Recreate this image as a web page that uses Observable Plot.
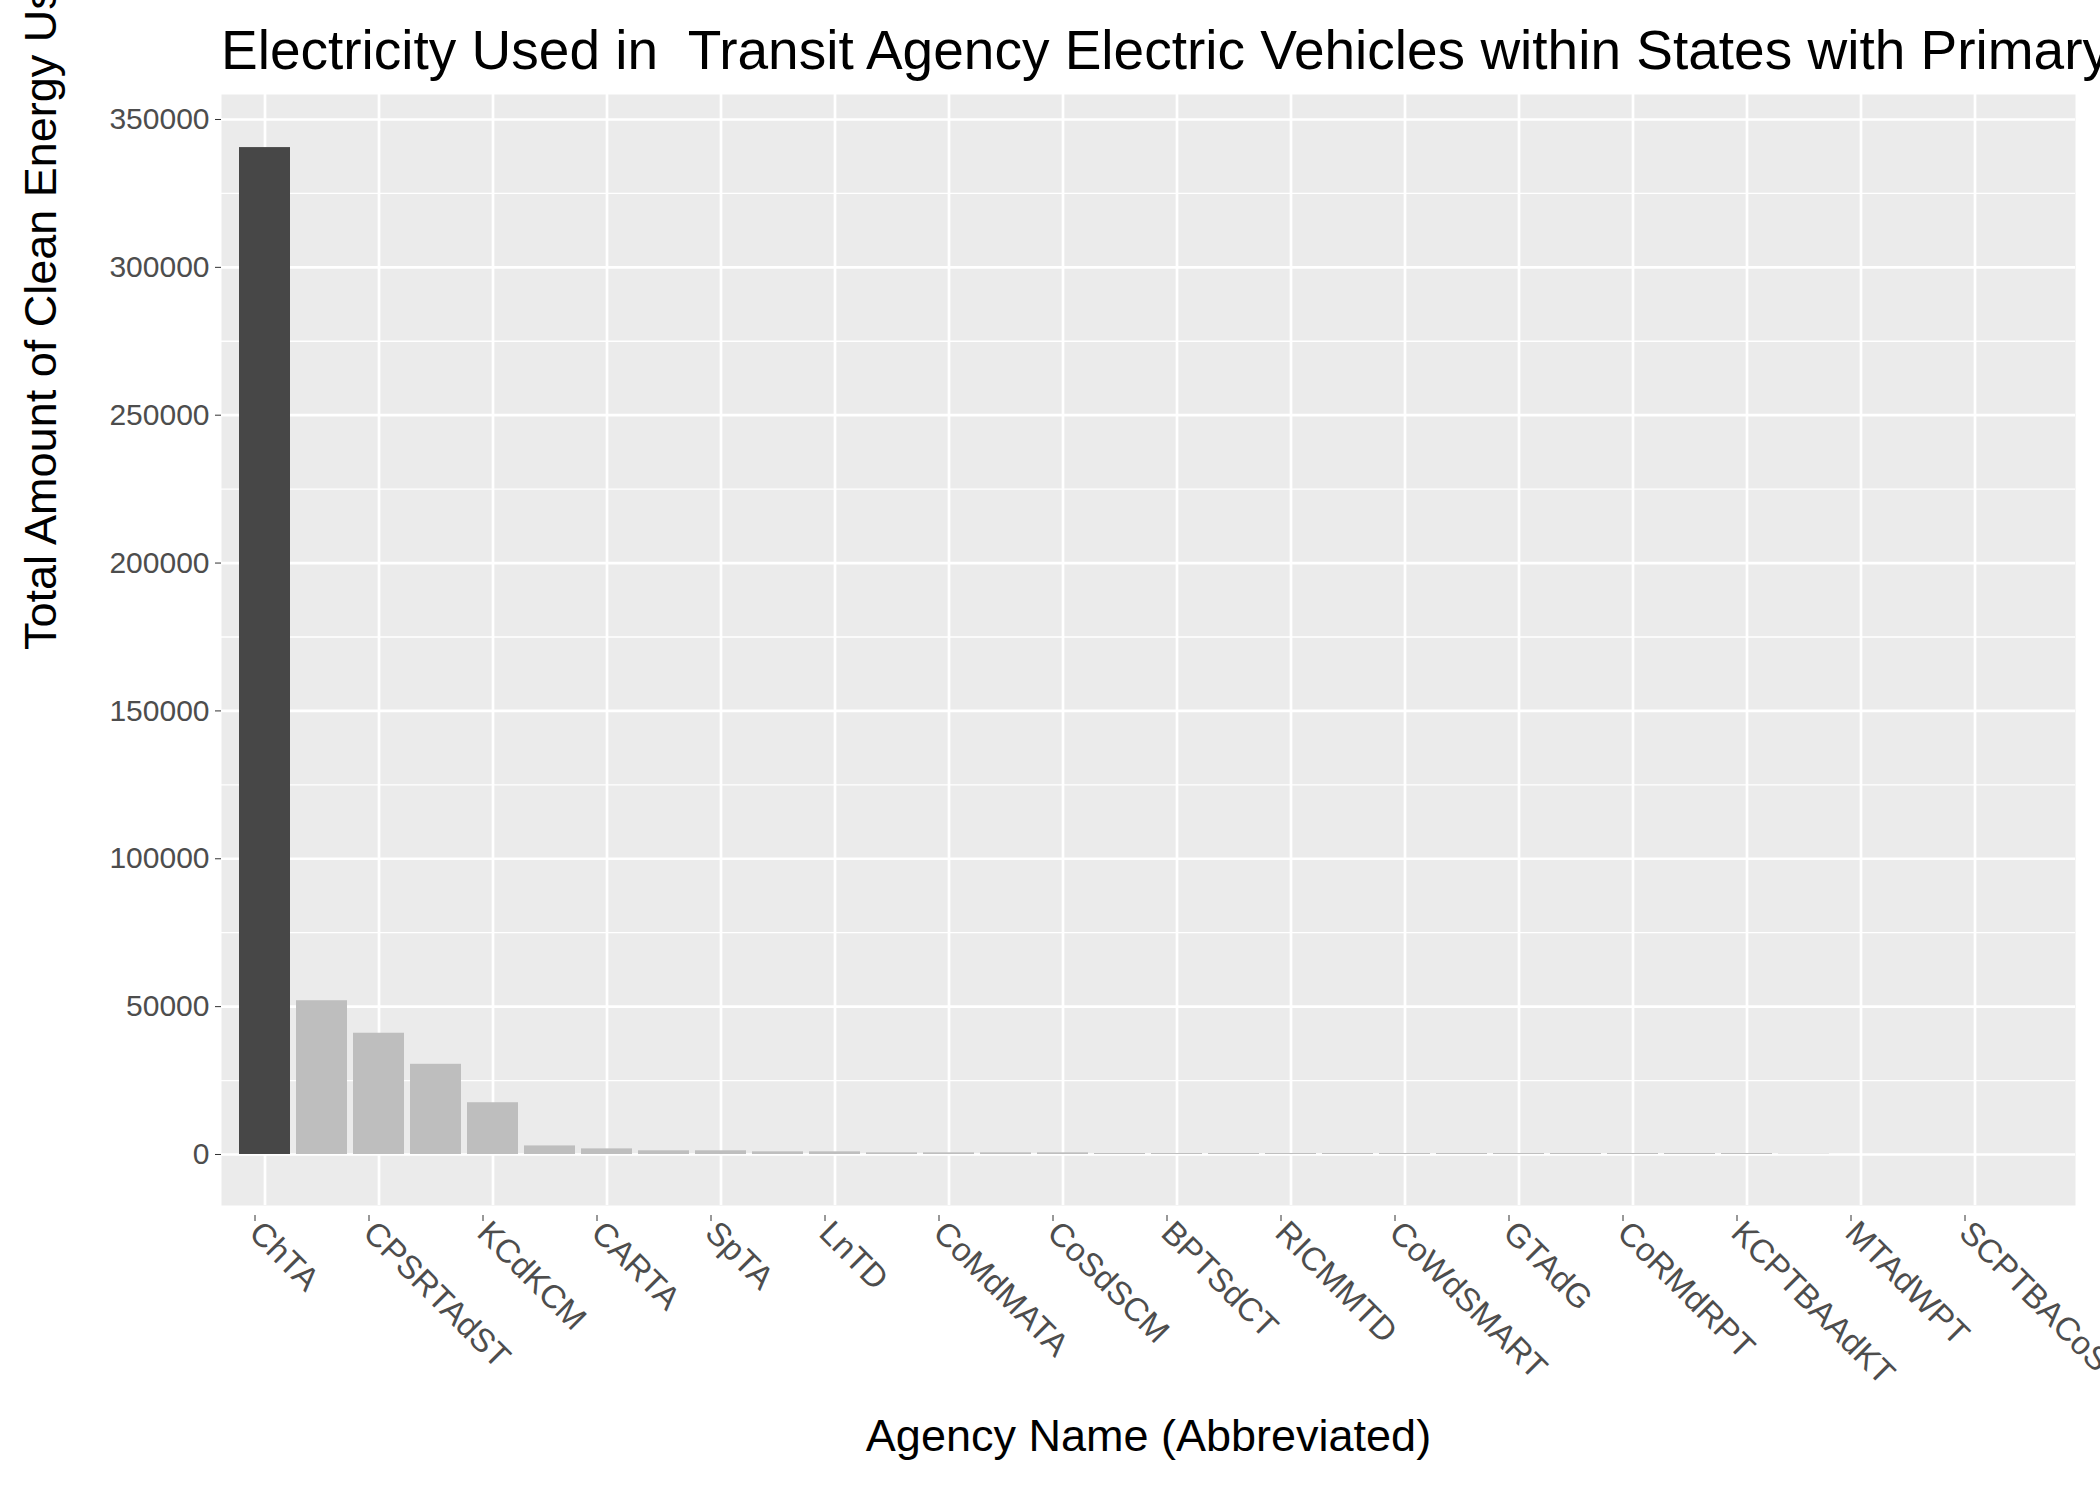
<!DOCTYPE html>
<html>
<head>
<meta charset="utf-8">
<script src="https://cdn.jsdelivr.net/npm/d3@7"></script>
<script src="https://cdn.jsdelivr.net/npm/@observablehq/plot@0.6"></script>
<style>
  body { margin: 0; background: white; overflow: hidden; font-family: "Liberation Sans", Arial, sans-serif; }
  #title { position: absolute; left: 221px; top: 18px; font-size: 55px; white-space: nowrap; color: #000; }
</style>
</head>
<body>
<div id="title">Electricity Used in&nbsp; Transit Agency Electric Vehicles within States with Primary Clean Energy Sources</div>
<div id="chart"></div>
<script>
// agencies, sorted by energy used; only every other name is printed on the axis
const agencies = ["ChTA", "Agency 2", "CPSRTAdST", "Agency 4", "KCdKCM", "Agency 6", "CARTA", "Agency 8",
  "SpTA", "Agency 10", "LnTD", "Agency 12", "CoMdMATA", "Agency 14", "CoSdSCM", "Agency 16",
  "BPTSdCT", "Agency 18", "RICMMTD", "Agency 20", "CoWdSMART", "Agency 22", "GTAdG", "Agency 24",
  "CoRMdRPT", "Agency 26", "KCPTBAAdKT", "Agency 28", "MTAdWPT", "Agency 30", "SCPTBACoS", "Agency 32"]
const energy = [340500, 52000, 41000, 30500, 17500, 2900, 1900, 1250, 1250, 900, 900, 560, 560, 560, 560,
  330, 330, 330, 330, 330, 330, 330, 330, 330, 330, 330, 330, 100, 0, 0, 0, 0]
const labelled = agencies.filter((d, i) => i % 2 === 0)

const data = agencies.map((a, i) => ({agency: a, kwh: energy[i], top: i === 0}))

const chart = Plot.plot({
  width: 2100,
  height: 1500,
  marginTop: 94,
  marginBottom: 295,
  marginLeft: 221,
  marginRight: 25,
  style: {fontFamily: "Liberation Sans, Arial, sans-serif", background: "white"},
  x: {domain: agencies, padding: 0.1},
  y: {domain: [-17250, 358450]},
  marks: [
    Plot.frame({fill: "#ebebeb", stroke: null}),
    Plot.ruleY(d3.range(25000, 350001, 50000), {stroke: "white", strokeWidth: 1.3}),
    Plot.ruleY(d3.range(0, 350001, 50000), {stroke: "white", strokeWidth: 2.7}),
    Plot.gridX(labelled, {stroke: "white", strokeWidth: 2.7, strokeOpacity: 1}),
    Plot.barY(data, {x: "agency", y: "kwh", fill: d => d.top ? "#474747" : "#bebebe"}),
    Plot.axisY({ticks: d3.range(0, 350001, 50000), tickFormat: d => String(d), fontSize: 30, color: "#4d4d4d",
      tickSize: 6, tickPadding: 6, stroke: "#333", label: null}),
    Plot.text(["Total Amount of Clean Energy Used (kWh)"], {frameAnchor: "left", dx: -180, rotate: -90,
      fontSize: 45, fill: "black"}),
    Plot.axisX({ticks: labelled, tickRotate: 45, fontSize: 33, color: "#4d4d4d", tickSize: 6, stroke: "#333",
      label: null, textAnchor: "start", dy: 10, dx: -10}),
    Plot.text(["Agency Name (Abbreviated)"], {frameAnchor: "bottom", dy: 245, fontSize: 45, fill: "black"})
  ]
})
document.getElementById("chart").append(chart)
</script>
</body>
</html>
